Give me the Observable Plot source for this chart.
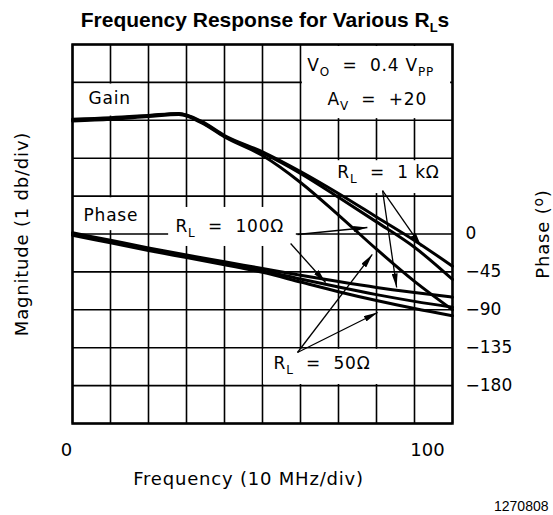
<!DOCTYPE html>
<html>
<head>
<meta charset="utf-8">
<script src="https://cdn.jsdelivr.net/npm/d3@7"></script>
<script src="https://cdn.jsdelivr.net/npm/@observablehq/plot@0.6"></script>
<style>
  html, body { margin: 0; padding: 0; background: white; }
  #title { width: 530px; height: 38px; text-align: center; font-family: "Liberation Sans", Arial, sans-serif;
           font-weight: bold; font-size: 21px; line-height: 40px; color: #000; }
  #title sub { font-size: 13px; vertical-align: -5px; line-height: 0; }
</style>
</head>
<body>
<div id="title">Frequency Response for Various R<sub>L</sub>s</div>
<div id="chart"></div>
<script>
// ---- data ----
const freqGain = [0, 10, 20, 28, 34, 40, 50, 60, 70, 80, 90, 100];      // MHz
const gain1k   = [0.03, 0.07, 0.13, 0.18, -0.03, -0.40, -0.83, -1.35, -1.93, -2.55, -3.17, -3.85]; // dB
const gain100  = [0, 0.05, 0.12, 0.17, -0.05, -0.42, -0.86, -1.40, -2.03, -2.68, -3.35, -4.20];
const gain50   = [-0.02, 0.03, 0.10, 0.15, -0.07, -0.44, -0.93, -1.64, -2.50, -3.40, -4.25, -5.00];

const freqPhase = [0, 10, 20, 30, 40, 50, 60, 70, 80, 90, 100];         // MHz
const phase1k   = [1.5, -7.5, -16.5, -25, -33, -41, -49, -56.5, -63.5, -69.5, -75]; // degrees
const phase100  = [0, -9, -18, -26.5, -35, -43.5, -53.5, -63, -72, -80, -87];
const phase50   = [-1.5, -10.5, -19.5, -28, -36.5, -45.5, -57, -68.5, -79, -88.5, -97];

const xTicks = [0, 100];
const phaseTicks = [0, -45, -90, -135, -180];

// annotations (data units: MHz, degrees)
const notes = [
  {text: "Gain", f: 4.2, p: 161},
  {text: "Phase", f: 2.9, p: 22},
  {text: "R_{L}  =  100Ω", f: 27.1, p: 9},
  {text: "V_{O}  =  0.4 V_{PP}", f: 61.8, p: 200},
  {text: "A_{V}  =  +20", f: 67.1, p: 160},
  {text: "R_{L}  =  1 kΩ", f: 69.7, p: 73},
  {text: "R_{L}  =  50Ω", f: 52.9, p: -154}
];
const boxes = [
  {f1: 0.5, f2: 18, p1: 140, p2: 178},
  {f1: 0.5, f2: 18, p1: 4, p2: 43},
  {f1: 25.3, f2: 58.9, p1: -14.8, p2: 31.5},
  {f1: 60.5, f2: 99.5, p1: 137, p2: 222.6},
  {f1: 68.7, f2: 97.6, p1: 48, p2: 87},
  {f1: 50.3, f2: 81, p1: -178.7, p2: -137}
];
const arrows = [
  {f1: 81.6, p1: 51.6, f2: 91.8, p2: -14.8},
  {f1: 81.6, p1: 51.6, f2: 85.3, p2: -63.5},
  {f1: 59.2, p1: -0.6, f2: 77.6, p2: 7.7},
  {f1: 57.4, p1: -11.3, f2: 66.6, p2: -57.6},
  {f1: 59.2, p1: -140.7, f2: 78.9, p2: -24.3},
  {f1: 59.2, p1: -140.7, f2: 80.3, p2: -93.2}
];

// gain (1 dB/div) drawn on the phase grid: 1 div = 45°, 0 dB sits on the 135° line
const dbToGrid = db => 135 + 45 * db;
const gainRows = [];
[["1k", gain1k], ["100", gain100], ["50", gain50]].forEach(([s, arr]) =>
  arr.forEach((v, i) => gainRows.push({s, f: freqGain[i], v: dbToGrid(v)})));
const phaseRows = [];
[["1k", phase1k], ["100", phase100], ["50", phase50]].forEach(([s, arr]) =>
  arr.forEach((v, i) => phaseRows.push({s, f: freqPhase[i], v})));

const gridX = d3.range(0, 101, 10);
const gridY = d3.range(-225, 226, 45);

const chart = Plot.plot({
  width: 553,
  height: 477,
  marginLeft: 72,
  marginRight: 101,
  marginTop: 6,
  marginBottom: 92,
  style: {fontFamily: "DejaVu Sans", fontSize: "17px", color: "black", background: "white", overflow: "visible"},
  x: {domain: [0, 100], axis: null},
  y: {domain: [-225, 225], axis: "right", ticks: phaseTicks, tickSize: 0, tickPadding: 13, label: null},
  marks: [
    Plot.ruleX(gridX, {stroke: "black", strokeWidth: 1.6}),
    Plot.ruleY(gridY, {stroke: "black", strokeWidth: 1.6}),
    Plot.rect(boxes, {x1: "f1", x2: "f2", y1: "p1", y2: "p2", fill: "white"}),
    Plot.line(gainRows, {x: "f", y: "v", z: "s", stroke: "black", strokeWidth: 3, curve: "monotone-x"}),
    Plot.line(phaseRows, {x: "f", y: "v", z: "s", stroke: "black", strokeWidth: 3, curve: "monotone-x"}),
    Plot.link(arrows, {x1: "f1", y1: "p1", x2: "f2", y2: "p2", stroke: "black", strokeWidth: 1.3, ariaDescription: "annotation-arrow"}),
    Plot.frame({stroke: "black", strokeWidth: 2.5}),
    Plot.text(notes, {x: "f", y: "p", text: "text", textAnchor: "start", fill: "black", ariaDescription: "spaced"}),
    Plot.text(xTicks.slice(0, 1), {x: d => d, y: () => -225, text: d => String(d), dy: 27, dx: -6, fill: "black", fontSize: 18}),
    Plot.text(xTicks.slice(1), {x: d => d, y: () => -225, text: d => String(d), dy: 27, dx: -25, fill: "black", fontSize: 18}),
    Plot.text(["Frequency (10 MHz/div)"], {frameAnchor: "bottom", textAnchor: "middle", dx: -14, dy: 61, fill: "black", fontSize: 18, ariaDescription: "spaced"}),
    Plot.text(["Magnitude (1 db/div)"], {frameAnchor: "left", textAnchor: "middle", dx: -50, rotate: -90, fill: "black", fontSize: 18, ariaDescription: "spaced"}),
    Plot.text(["Phase (^{o})"], {frameAnchor: "right", textAnchor: "middle", dx: 91, rotate: -90, fill: "black", fontSize: 18, ariaDescription: "spaced"}),
    Plot.text(["1270808"], {frameAnchor: "bottom-right", dx: 96, dy: 87, textAnchor: "end", fill: "black",
      fontFamily: "Liberation Sans, Arial, sans-serif", fontSize: 14})
  ]
});
document.getElementById("chart").appendChild(chart);

const svg = d3.select(chart);
// filled arrow heads
const defs = svg.insert("defs", ":first-child");
defs.append("marker").attr("id", "ahead").attr("viewBox", "0 0 14 6").attr("refX", 14).attr("refY", 3)
  .attr("markerWidth", 14).attr("markerHeight", 6).attr("markerUnits", "userSpaceOnUse").attr("orient", "auto")
  .append("path").attr("d", "M0,0L14,3L0,6Z").attr("fill", "black");
svg.selectAll('g[aria-description="annotation-arrow"] path, g[aria-description="annotation-arrow"] line')
  .attr("marker-end", "url(#ahead)");

// render _{..} as subscripts and ^{..} as superscripts
svg.selectAll("text").each(function () {
  const t = this.textContent;
  if (!t.includes("_{") && !t.includes("^{")) return;
  const el = d3.select(this);
  el.text(null);
  const parts = t.split(/([_^]\{[^}]*\})/);
  let shift = 0;
  parts.forEach(p => {
    if (!p) return;
    if (p.startsWith("_{") || p.startsWith("^{")) {
      const d = p[0] === "_" ? 5 : -6;
      el.append("tspan").attr("font-size", p[0] === "_" ? 12 : 14).attr("dy", d - shift).text(p.slice(2, -1));
      shift = d;
    } else {
      const ts = el.append("tspan").text(p);
      if (shift) { ts.attr("dy", -shift); shift = 0; }
    }
  });
});
svg.selectAll("text").attr("xml:space", "preserve").style("white-space", "pre");
svg.selectAll('g[aria-description="spaced"] text').style("letter-spacing", "0.8px");
</script>
</body>
</html>
